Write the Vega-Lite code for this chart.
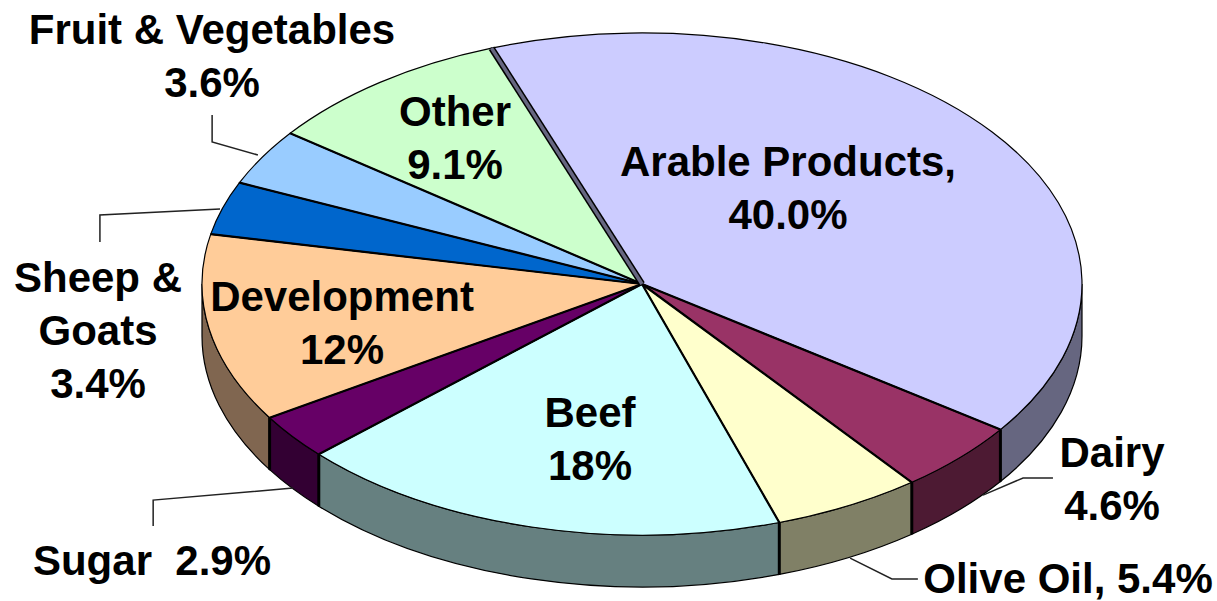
{
"$schema":"https://vega.github.io/schema/vega-lite/v6.json",
"width":1217,"height":601,"padding":0,"autosize":"none","background":"white",
"config":{"view":{"stroke":null},"text":{"font":"Liberation Sans","fontWeight":"bold","fontSize":42,"lineHeight":53,"lineBreak":"\n","color":"black","align":"center","baseline":"middle"}},
"data":{"values":[
{"ord":1,"slice":"Arable Products","value":40.0,"label":"Arable Products,\n40.0%"},
{"ord":2,"slice":"Dairy","value":4.6,"label":"Dairy\n4.6%"},
{"ord":3,"slice":"Olive Oil","value":5.4,"label":"Olive Oil, 5.4%"},
{"ord":4,"slice":"Beef","value":18,"label":"Beef\n18%"},
{"ord":5,"slice":"Sugar","value":2.9,"label":"Sugar\u00a0 2.9%"},
{"ord":6,"slice":"Development","value":12,"label":"Development\n12%"},
{"ord":7,"slice":"Sheep & Goats","value":3.4,"label":"Sheep &\nGoats\n3.4%"},
{"ord":8,"slice":"Fruit & Vegetables","value":3.6,"label":"Fruit & Vegetables\n3.6%"},
{"ord":9,"slice":"Other","value":9.1,"label":"Other\n9.1%"}
]},
"transform":[
{"joinaggregate":[{"op":"sum","field":"value","as":"total"}]},
{"window":[{"op":"sum","field":"value","as":"cum"}],"sort":[{"field":"ord","order":"ascending"}]},
{"calculate":"-20*PI/180+datum.cum/datum.total*2*PI","as":"a1"},
{"calculate":"datum.a1-datum.value/datum.total*2*PI","as":"a0"},
{"calculate":"clamp(datum.a0,PI/2,3*PI/2)","as":"c0"},
{"calculate":"clamp(datum.a1,PI/2,3*PI/2)","as":"c1"},
{"calculate":"round(sin(datum.a0)*1e5)/1e5","as":"fx0"},
{"calculate":"round(-0.5705*cos(datum.a0)*1e5)/1e5","as":"fy0"},
{"calculate":"round(sin(datum.a1)*1e5)/1e5","as":"fx1"},
{"calculate":"round(-0.5705*cos(datum.a1)*1e5)/1e5","as":"fy1"},
{"calculate":"round(sin(datum.c0)*1e5)/1e5","as":"sx0"},
{"calculate":"round(-0.5705*cos(datum.c0)*1e5)/1e5","as":"sy0"},
{"calculate":"round(sin(datum.c1)*1e5)/1e5","as":"sx1"},
{"calculate":"round(-0.5705*cos(datum.c1)*1e5)/1e5","as":"sy1"},
{"calculate":"'M0,0L'+datum.fx0+','+datum.fy0+'A1,0.5705 0 0 1 '+datum.fx1+','+datum.fy1+'Z'","as":"facePath"},
{"calculate":"'M'+datum.sx0+','+datum.sy0+'A1,0.5705 0 0 1 '+datum.sx1+','+datum.sy1+'L'+datum.sx1+','+(datum.sy1+0.118)+'A1,0.5705 0 0 0 '+datum.sx0+','+(datum.sy0+0.118)+'Z'","as":"sidePath"},
{"calculate":"sin(datum.a0)","as":"rimX"},
{"calculate":"cos(datum.a0)","as":"rimY"},
{"calculate":"cos(datum.a0)-0.207","as":"rimLow"}
],
"resolve":{"scale":{"fill":"independent"}},
"layer":[
{"transform":[{"filter":"datum.a1>PI/2 && datum.a0<3*PI/2"}],
 "mark":{"type":"point","filled":true,"opacity":1,"stroke":"black","strokeWidth":1.2,"size":774400},
 "encoding":{
  "x":{"datum":0,"type":"quantitative","scale":{"domain":[-1,1],"range":[202,1082],"nice":false,"zero":false},"axis":null},
  "y":{"datum":0,"type":"quantitative","scale":{"domain":[-1,1],"range":[535,33],"nice":false,"zero":false},"axis":null},
  "shape":{"field":"sidePath","type":"nominal","scale":null,"legend":null},
  "fill":{"field":"slice","type":"nominal","legend":null,"scale":{"domain":["Arable Products","Dairy","Olive Oil","Beef","Sugar","Development"],"range":["#666680","#4D1A33","#808066","#668080","#330033","#806650"]}}
 }},
{"transform":[{"filter":"datum.a0>PI/2 && datum.a0<3*PI/2"}],
 "mark":{"type":"rule","stroke":"black","strokeWidth":3},
 "encoding":{
  "x":{"field":"rimX","type":"quantitative"},
  "y":{"field":"rimY","type":"quantitative"},
  "y2":{"field":"rimLow"}
 }},
{"mark":{"type":"point","filled":true,"opacity":1,"stroke":"black","strokeWidth":1.2,"size":774400},
 "encoding":{
  "x":{"datum":0,"type":"quantitative"},
  "y":{"datum":0,"type":"quantitative"},
  "shape":{"field":"facePath","type":"nominal","scale":null,"legend":null},
  "fill":{"field":"slice","type":"nominal","legend":null,"scale":{"domain":["Arable Products","Dairy","Olive Oil","Beef","Sugar","Development","Sheep & Goats","Fruit & Vegetables","Other"],"range":["#CCCCFF","#993366","#FFFFCC","#CCFFFF","#660066","#FFCC99","#0066CC","#99CCFF","#CCFFCC"]}}
 }},
{"mark":{"type":"rule","stroke":"black","strokeWidth":2.2},
 "encoding":{
  "x":{"field":"rimX","type":"quantitative"},
  "y":{"field":"rimY","type":"quantitative"},
  "x2":{"datum":0},
  "y2":{"datum":0}
 }},
{"transform":[{"filter":"datum.ord==1"}],
 "mark":{"type":"rule","stroke":"black","strokeWidth":6.5},
 "encoding":{"x":{"field":"rimX","type":"quantitative"},"y":{"field":"rimY","type":"quantitative"},"x2":{"datum":0},"y2":{"datum":0}}},
{"transform":[{"filter":"datum.ord==1"}],
 "mark":{"type":"rule","stroke":"#666680","strokeWidth":3.5},
 "encoding":{"x":{"field":"rimX","type":"quantitative"},"y":{"field":"rimY","type":"quantitative"},"x2":{"datum":0},"y2":{"datum":0}}},
{"data":{"values":[
{"leader":"Fruit","step":1,"u":-0.977,"v":0.673},{"leader":"Fruit","step":2,"u":-0.977,"v":0.566},{"leader":"Fruit","step":3,"u":-0.873,"v":0.514},
{"leader":"Sheep","step":1,"u":-1.232,"v":0.167},{"leader":"Sheep","step":2,"u":-1.232,"v":0.275},{"leader":"Sheep","step":3,"u":-0.959,"v":0.299},
{"leader":"Sugar","step":1,"u":-1.111,"v":-0.964},{"leader":"Sugar","step":2,"u":-1.111,"v":-0.861},{"leader":"Sugar","step":3,"u":-0.793,"v":-0.813},
{"leader":"Dairy","step":1,"u":0.934,"v":-0.773},{"leader":"Dairy","step":2,"u":0.866,"v":-0.773},{"leader":"Dairy","step":3,"u":0.775,"v":-0.841},
{"leader":"Olive","step":1,"u":0.627,"v":-1.175},{"leader":"Olive","step":2,"u":0.568,"v":-1.175},{"leader":"Olive","step":3,"u":0.473,"v":-1.092}
]},
 "mark":{"type":"line","stroke":"#222222","strokeWidth":1.5},
 "encoding":{"x":{"field":"u","type":"quantitative"},"y":{"field":"v","type":"quantitative"},"detail":{"field":"leader"},"order":{"field":"step"}}},
{"transform":[{"filter":"datum.ord==1"}],"mark":{"type":"text","dx":146,"dy":-121},"encoding":{"x":{"datum":0,"type":"quantitative"},"y":{"datum":0,"type":"quantitative"},"text":{"field":"label"}}},
{"transform":[{"filter":"datum.ord==2"}],"mark":{"type":"text","dx":470,"dy":170},"encoding":{"x":{"datum":0,"type":"quantitative"},"y":{"datum":0,"type":"quantitative"},"text":{"field":"label"}}},
{"transform":[{"filter":"datum.ord==3"}],"mark":{"type":"text","dx":426,"dy":296},"encoding":{"x":{"datum":0,"type":"quantitative"},"y":{"datum":0,"type":"quantitative"},"text":{"field":"label"}}},
{"transform":[{"filter":"datum.ord==4"}],"mark":{"type":"text","dx":-52,"dy":130},"encoding":{"x":{"datum":0,"type":"quantitative"},"y":{"datum":0,"type":"quantitative"},"text":{"field":"label"}}},
{"transform":[{"filter":"datum.ord==5"}],"mark":{"type":"text","dx":-490,"dy":278},"encoding":{"x":{"datum":0,"type":"quantitative"},"y":{"datum":0,"type":"quantitative"},"text":{"field":"label"}}},
{"transform":[{"filter":"datum.ord==6"}],"mark":{"type":"text","dx":-300,"dy":14},"encoding":{"x":{"datum":0,"type":"quantitative"},"y":{"datum":0,"type":"quantitative"},"text":{"field":"label"}}},
{"transform":[{"filter":"datum.ord==7"}],"mark":{"type":"text","dx":-544,"dy":-5},"encoding":{"x":{"datum":0,"type":"quantitative"},"y":{"datum":0,"type":"quantitative"},"text":{"field":"label"}}},
{"transform":[{"filter":"datum.ord==8"}],"mark":{"type":"text","dx":-430,"dy":-253},"encoding":{"x":{"datum":0,"type":"quantitative"},"y":{"datum":0,"type":"quantitative"},"text":{"field":"label"}}},
{"transform":[{"filter":"datum.ord==9"}],"mark":{"type":"text","dx":-187,"dy":-171},"encoding":{"x":{"datum":0,"type":"quantitative"},"y":{"datum":0,"type":"quantitative"},"text":{"field":"label"}}}
]
}
